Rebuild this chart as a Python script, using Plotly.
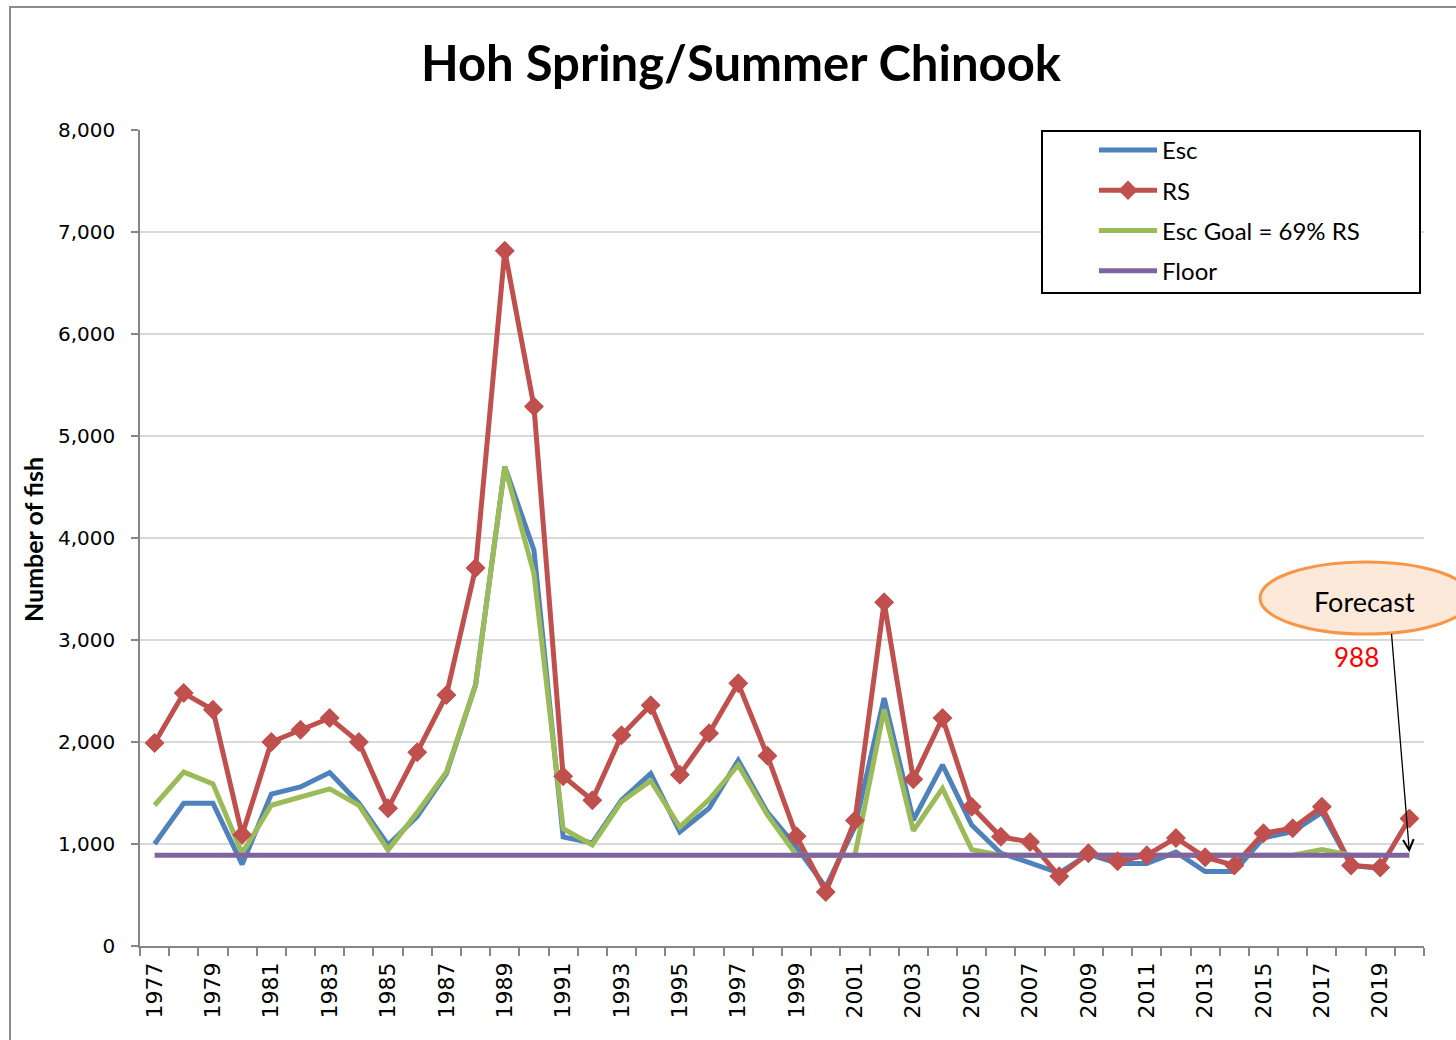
import plotly.graph_objects as go

years = list(range(1977, 2021))

rs = [1990, 2480, 2315, 1090, 2000, 2120, 2235, 2000, 1350, 1900,
      2460, 3705, 6815, 5290, 1665, 1430, 2065, 2360, 1680, 2085,
      2575, 1865, 1075, 530, 1230, 3370, 1635, 2235, 1365, 1070,
      1020, 685, 910, 830, 890, 1060, 870, 790, 1105, 1155,
      1365, 790, 770, 1250]

esc = [1000, 1400, 1400, 800, 1490, 1560, 1700, 1400, 990, 1270,
       1690, 2560, 4700, 3880, 1070, 1010, 1430, 1690, 1120, 1350,
       1820, 1310, 970, 575, 1170, 2430, 1235, 1775, 1185, 910,
       815, 715, 900, 810, 810, 920, 730, 730, 1060, 1120,
       1310, 790, 760, None]

esc_goal = [1380, 1705, 1590, 910, 1380, 1460, 1540, 1380, 940, 1310,
            1705, 2560, 4700, 3650, 1150, 990, 1415, 1620, 1165, 1435,
            1775, 1285, 890, 890, 890, 2320, 1130, 1545, 945, 890,
            890, 890, 890, 890, 890, 890, 890, 890, 890, 890,
            945, 890, 890, None]

floor_vals = [890, 890, 890, 890, 890, 890, 890, 890, 890, 890,
              890, 890, 890, 890, 890, 890, 890, 890, 890, 890,
              890, 890, 890, 890, 890, 890, 890, 890, 890, 890,
              890, 890, 890, 890, 890, 890, 890, 890, 890, 890,
              890, 890, 890, 890]

label_years = list(range(1977, 2021, 2))
forecast_year = 2020
forecast_value = 988

BLUE = "#4F81BD"
RED = "#C0504D"
GREEN = "#9BBB59"
PURPLE = "#8064A2"
LW = 5

fig = go.Figure()
fig.add_trace(go.Scatter(x=years, y=esc, name="Esc", mode="lines",
                         line=dict(color=BLUE, width=LW), legendgroup="a"))
fig.add_trace(go.Scatter(x=years, y=rs, name="RS", mode="lines+markers",
                         line=dict(color=RED, width=LW),
                         marker=dict(symbol="diamond", size=15, color=RED),
                         legendgroup="b"))
fig.add_trace(go.Scatter(x=years, y=esc_goal, name="Esc Goal = 69% RS", mode="lines",
                         line=dict(color=GREEN, width=LW), legendgroup="c"))
fig.add_trace(go.Scatter(x=years, y=floor_vals, name="Floor", mode="lines",
                         line=dict(color=PURPLE, width=LW), legendgroup="d"))
fig.add_trace(go.Scatter(x=years, y=rs, mode="markers", showlegend=False,
                         marker=dict(symbol="diamond", size=15, color=RED),
                         hoverinfo="skip"))

L, R, T, B = 140, 32, 130, 94
W, H = 1456, 1040
pw = W - L - R
ph = H - T - B


def px(x):
    return (x - L) / pw


def py(y):
    return (H - B - y) / ph


fig.update_layout(
    width=W, height=H,
    margin=dict(l=L, r=R, t=T, b=B),
    paper_bgcolor="white", plot_bgcolor="white",
    font=dict(family="DejaVu Sans", color="black"),
    title=dict(text="<b>Hoh Spring/Summer Chinook</b>",
               font=dict(family="Lato", size=49, color="black"),
               x=741 / W, xanchor="center", y=1 - 64 / H, yanchor="middle"),
    showlegend=True,
    legend=dict(x=px(1094), y=py(128), xanchor="left", yanchor="top",
                bgcolor="rgba(0,0,0,0)", borderwidth=0,
                font=dict(family="Lato", size=24, color="black"),
                tracegroupgap=6, itemwidth=58),
)

fig.update_xaxes(
    range=[1976.5, 2020.5],
    tickmode="array", tickvals=label_years, ticktext=[str(y) for y in label_years],
    tickangle=-90, ticks="", tickfont=dict(size=22, family="DejaVu Sans"),
    ticklabelstandoff=6,
    showgrid=False, zeroline=False,
    showline=True, linecolor="#868686", linewidth=1.5,
    minor=dict(tick0=1976.5, dtick=1, ticks="outside", ticklen=8,
               tickcolor="#868686", tickwidth=1.5, showgrid=False),
)

fig.update_yaxes(
    range=[0, 8000], dtick=1000, tickformat=",",
    showgrid=True, gridcolor="#D9D9D9", gridwidth=1.5,
    zeroline=False,
    showline=True, linecolor="#868686", linewidth=1.5,
    ticks="outside", ticklen=7, tickcolor="#868686", tickwidth=1.5,
    tickfont=dict(size=20, family="DejaVu Sans"),
    ticklabelstandoff=12,
)

shapes = [
    dict(type="rect", xref="paper", yref="paper",
         x0=px(10), x1=px(1470), y0=py(1060), y1=py(7),
         line=dict(color="#8C8C8C", width=2), fillcolor="rgba(0,0,0,0)",
         layer="below"),
    dict(type="rect", xref="paper", yref="paper",
         x0=px(1042), x1=px(1420), y0=py(293), y1=py(131),
         line=dict(color="black", width=2), fillcolor="white", layer="above"),
    dict(type="circle", xref="paper", yref="paper",
         x0=px(1260), x1=px(1472), y0=py(634), y1=py(562),
         line=dict(color="#F79646", width=3), fillcolor="#FDE9D9",
         layer="above"),
]
fig.update_layout(shapes=shapes)

annotations = [
    dict(text="<b>Number of fish</b>", xref="paper", yref="paper",
         x=px(33), y=py(540), xanchor="center", yanchor="middle",
         textangle=-90, showarrow=False,
         font=dict(family="Lato", size=25, color="black")),
    dict(text="Forecast", xref="paper", yref="paper",
         x=px(1364), y=py(601), xanchor="center", yanchor="middle",
         showarrow=False, font=dict(family="Lato", size=27, color="black")),
    dict(text=str(forecast_value), xref="paper", yref="paper",
         x=px(1356), y=py(657), xanchor="center", yanchor="middle",
         showarrow=False, font=dict(family="Lato", size=26, color="#FF0000")),
    dict(text="", x=forecast_year, y=forecast_value - 70, xref="x", yref="y",
         showarrow=True, axref="pixel", ayref="pixel", ax=-18, ay=-220,
         arrowhead=5, arrowsize=1.6, arrowwidth=1.3, arrowcolor="black"),
]
fig.update_layout(annotations=annotations)

fig.write_html("out.html",
               config={"displayModeBar": False},
               post_script="document.body.style.margin='0px';document.body.style.overflow='hidden';")
